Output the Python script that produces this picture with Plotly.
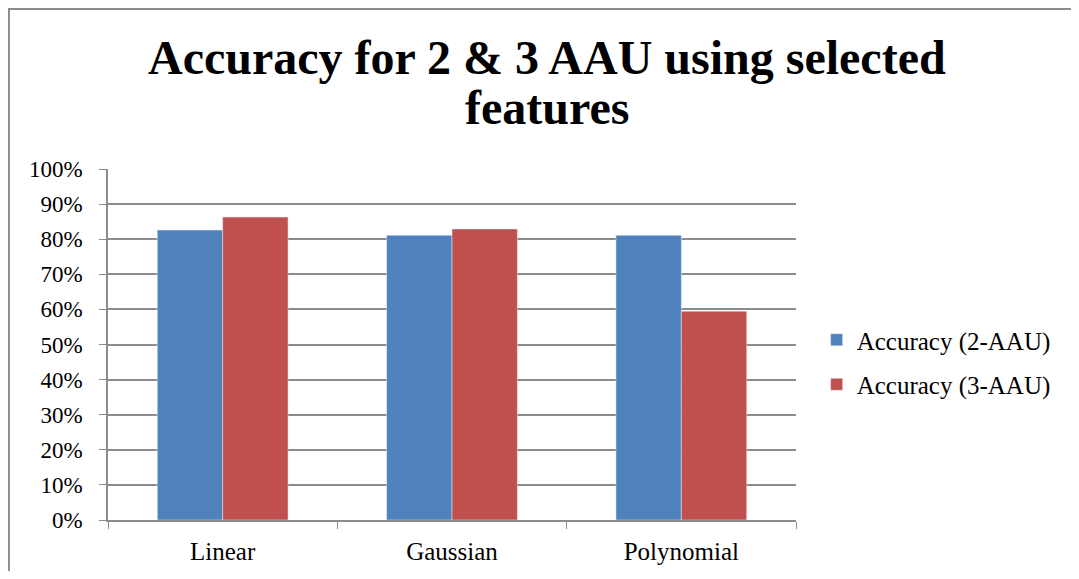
import plotly.graph_objects as go

categories = ["Linear", "Gaussian", "Polynomial"]
acc_2aau = [0.826, 0.811, 0.811]
acc_3aau = [0.863, 0.829, 0.595]
y_ticks = [i / 10 for i in range(11)]
y_labels = [f"{i * 10}%" for i in range(11)]

serif = "Liberation Serif, Times New Roman, serif"

fig = go.Figure()
fig.add_trace(go.Bar(x=categories, y=acc_2aau, name="Accuracy (2-AAU)",
                     marker=dict(color="#4F81BD"), legendgroup="a"))
fig.add_trace(go.Bar(x=categories, y=acc_3aau, name="Accuracy (3-AAU)",
                     marker=dict(color="#C0504D"), legendgroup="b"))

# outer chart border (only top and left visible in the reference)
fig.add_shape(type="rect", xref="paper", yref="paper",
              x0=-0.144, x1=2.0, y0=-0.5, y1=1.456,
              line=dict(color="#8c8c8c", width=2), fillcolor="rgba(0,0,0,0)")

# title, two lines placed separately for tight line spacing
title_lines = ["Accuracy for 2 & 3 AAU using selected", "features"]
for txt, yy in zip(title_lines, [1.319, 1.174]):
    fig.add_annotation(text=f"<b>{txt}</b>", xref="paper", yref="paper",
                       x=0.638, y=yy, xanchor="center", yanchor="middle",
                       showarrow=False,
                       font=dict(size=48, family=serif, color="black"))

fig.update_layout(
    width=1063, height=563,
    margin=dict(l=100, r=275, t=161, b=51),
    paper_bgcolor="white", plot_bgcolor="white",
    font=dict(family=serif, color="black"),
    bargap=0.43, bargroupgap=0,
    showlegend=True,
    legend=dict(x=1.03, xanchor="left", y=0.45, yanchor="middle",
                font=dict(size=25, family=serif), traceorder="grouped",
                tracegroupgap=9, itemwidth=30),
    xaxis=dict(showline=True, linecolor="#8c8c8c", linewidth=1.5,
               ticks="outside", tickson="boundaries", ticklen=7,
               tickcolor="#8c8c8c", tickfont=dict(size=25, family=serif),
               ticklabelstandoff=8, showgrid=False, automargin=False),
    yaxis=dict(range=[0, 1], tickvals=y_ticks, ticktext=y_labels,
               showline=True, linecolor="#8c8c8c", linewidth=1.5,
               ticks="outside", ticklen=7, tickcolor="#8c8c8c",
               ticklabelstandoff=12, automargin=False,
               tickfont=dict(size=23, family=serif),
               showgrid=True, gridcolor="#8c8c8c", gridwidth=1.5,
               zeroline=False),
)

fig.write_html("out.html")
